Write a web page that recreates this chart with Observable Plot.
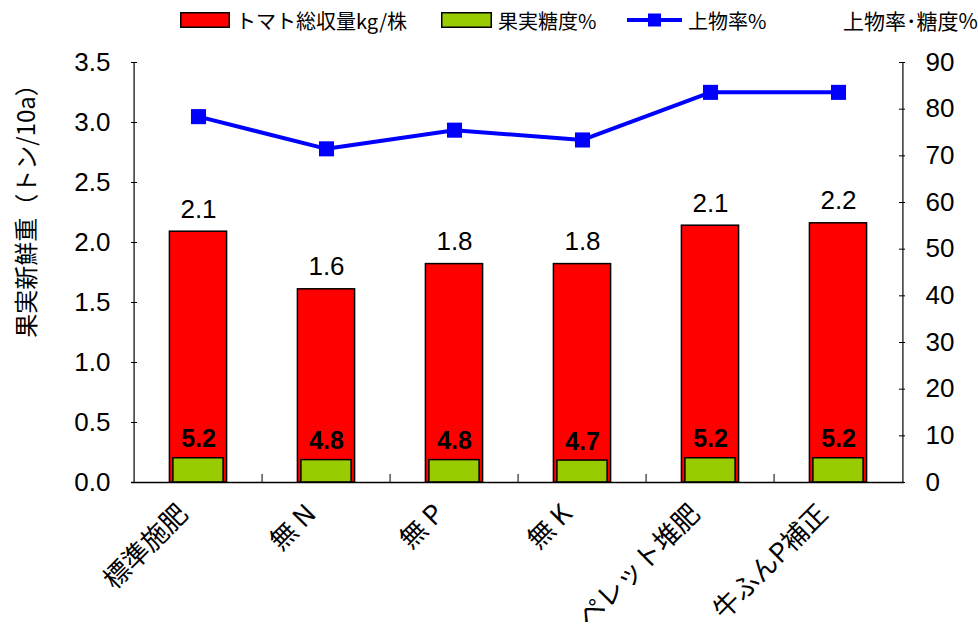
<!DOCTYPE html>
<html>
<head>
<meta charset="utf-8">
<script src="https://cdn.jsdelivr.net/npm/d3@7"></script>
<script src="https://cdn.jsdelivr.net/npm/@observablehq/plot@0.6"></script>
<style>
  body { margin: 0; background: #fff; font-family: "Liberation Sans", "Noto Sans CJK JP", sans-serif; }
  #wrap { width: 978px; height: 639px; position: relative; overflow: hidden; }
  #legend { position: relative; width: 978px; height: 40px; font-family: "Noto Sans CJK JP", sans-serif; font-size: 20px; color: #000; }
  .li { position: absolute; top: 0; height: 40px; display: flex; align-items: center; white-space: nowrap; }
  .li svg { margin-right: 6px; }
  #ylabel { position: absolute; left: 25px; top: 205px; transform: translate(-50%, -50%) rotate(-90deg); white-space: nowrap;
            font-family: "Noto Sans CJK JP", sans-serif; font-size: 24px; color: #000; line-height: 1; }
</style>
</head>
<body>
<div id="wrap">
  <div id="legend"></div>
  <div id="chart"></div>
  <div id="ylabel"></div>
</div>
<script>
// ---- data ----
const categories = ["標準施肥", "無 N", "無 P", "無 K", "ペレット堆肥", "牛ふんP補正"];
const yieldValues = [2.09, 1.61, 1.82, 1.82, 2.14, 2.16];   // left axis (トマト総収量kg/株)
const sugarValues = [5.2, 4.8, 4.8, 4.7, 5.2, 5.2];         // right axis (果実糖度%)
const rateValues = [78.4, 71.5, 75.5, 73.4, 83.6, 83.6];    // right axis (上物率%)
const leftTicks = [0, 0.5, 1.0, 1.5, 2.0, 2.5, 3.0, 3.5];
const rightTicks = [0, 10, 20, 30, 40, 50, 60, 70, 80, 90];
const seriesNames = ["トマト総収量kg/株", "果実糖度%", "上物率%"];
const yLabel = "果実新鮮重（トン/10a）";
const rightLabel = "上物率･糖度%";

const leftMax = 3.5, rightMax = 90;
const toLeft = v => v * leftMax / rightMax;

const rows = categories.map((c, i) => ({cat: c, yield: yieldValues[i], sugar: sugarValues[i], rate: rateValues[i]}));

// ---- legend ----
const legend = document.getElementById("legend");
function addItem(left, swatchSvg, label) {
  const d = document.createElement("div");
  d.className = "li";
  d.style.left = left + "px";
  d.innerHTML = swatchSvg + `<span>${label}</span>`;
  legend.appendChild(d);
}
addItem(180, `<svg width="50" height="16"><rect x="0.75" y="0.75" width="48.5" height="14.5" fill="#ff0000" stroke="#000" stroke-width="1.5"/></svg>`, seriesNames[0]);
addItem(441, `<svg width="51" height="16"><rect x="0.75" y="0.75" width="49.5" height="14.5" fill="#99cc00" stroke="#000" stroke-width="1.5"/></svg>`, seriesNames[1]);
addItem(627, `<svg width="55" height="16"><line x1="0" y1="8" x2="55" y2="8" stroke="#0000ff" stroke-width="4"/><rect x="21" y="1.5" width="13" height="13" fill="#0000ff"/></svg>`, seriesNames[2]);
{
  const d = document.createElement("div");
  d.className = "li";
  d.style.left = "843px";
  d.style.fontSize = "21px";
  d.textContent = rightLabel;
  legend.appendChild(d);
}
document.getElementById("ylabel").textContent = yLabel;

// ---- chart ----
const W = 978, H = 599;
const mL = 131, mR = 74, mT = 22, mB = 157;
const bw = (W - mL - mR) / categories.length;
const font = "Liberation Sans, Noto Sans CJK JP, sans-serif";

const chart = Plot.plot({
  width: W,
  height: H,
  marginLeft: mL,
  marginRight: mR,
  marginTop: mT,
  marginBottom: mB,
  style: {fontFamily: font, fontSize: "26px", color: "#000", background: "#fff", overflow: "visible"},
  x: {domain: categories, padding: 0},
  y: {domain: [0, leftMax]},
  marks: [
    // red bars (left scale)
    Plot.barY(rows, {x: "cat", y: "yield", fill: "#ff0000", stroke: "#000", strokeWidth: 1.5, insetLeft: (bw - 58) / 2, insetRight: (bw - 58) / 2}),
    // green bars (right scale mapped)
    Plot.barY(rows, {x: "cat", y: d => toLeft(d.sugar), fill: "#99cc00", stroke: "#000", strokeWidth: 1.5, insetLeft: (bw - 51) / 2, insetRight: (bw - 51) / 2}),
    // axis lines
    Plot.ruleY([0], {stroke: "#000", strokeWidth: 1.5}),
    Plot.ruleX([categories[0]], {x: d => d, y1: 0, y2: leftMax, dx: -bw / 2, stroke: "#000", strokeWidth: 1.2}),
    Plot.ruleX([categories[categories.length - 1]], {x: d => d, y1: 0, y2: leftMax, dx: bw / 2, stroke: "#000", strokeWidth: 1.2}),
    // category separator ticks (inward)
    Plot.ruleX(categories.slice(1), {x: d => d, y1: 0, y2: 8 / 120, dx: -bw / 2, stroke: "#000", strokeWidth: 1}),
    // line (right scale mapped)
    Plot.line(rows, {x: "cat", y: d => toLeft(d.rate), stroke: "#0000ff", strokeWidth: 4}),
    Plot.dot(rows, {x: "cat", y: d => toLeft(d.rate), symbol: "square", r: 8.5, fill: "#0000ff", stroke: null}),
    // value labels
    Plot.text(rows, {x: "cat", y: "yield", text: d => d3.format(".1f")(d.yield), dy: -14, lineAnchor: "bottom", fontSize: 26, fill: "#000"}),
    Plot.text(rows, {x: "cat", y: d => toLeft(d.sugar), text: d => d3.format(".1f")(d.sugar), dy: -11, lineAnchor: "bottom", fontSize: 25, fontWeight: "bold", fill: "#000"}),
    // left axis
    Plot.axisY({anchor: "left", ticks: leftTicks, tickFormat: d3.format(".1f"), tickSize: -6, tickPadding: 27, fontSize: 26, label: null}),
    // right axis
    Plot.axisY({anchor: "right", ticks: rightTicks.map(toLeft), tickFormat: d => String(Math.round(d * rightMax / leftMax)), tickSize: -6, tickPadding: 27, fontSize: 26, label: null}),
    // x axis labels
    Plot.axisX({anchor: "bottom", tickSize: 0, tickRotate: -45, tickPadding: 27, dx: -15, fontSize: 26.5, label: null, fontFamily: "Noto Sans CJK JP, sans-serif"})
  ]
});
document.getElementById("chart").appendChild(chart);
</script>
</body>
</html>
